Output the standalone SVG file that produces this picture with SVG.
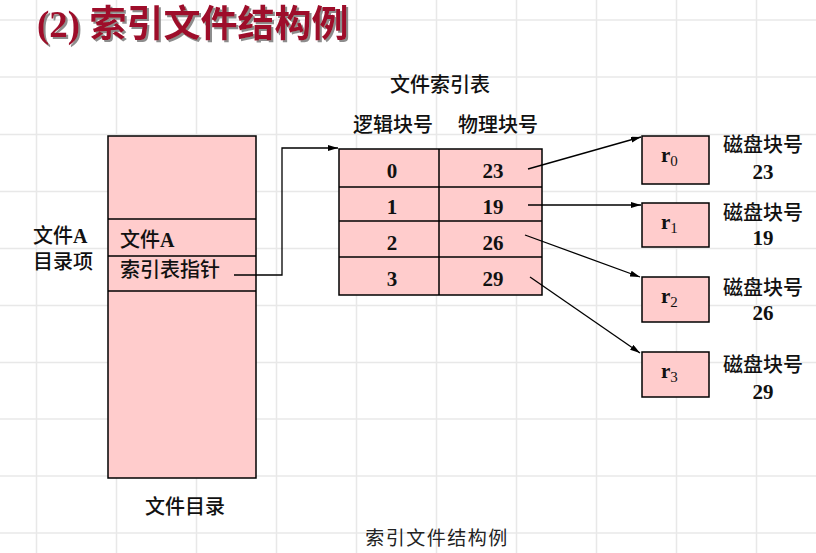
<svg xmlns="http://www.w3.org/2000/svg" width="816" height="553" viewBox="0 0 816 553">
  <style>
    .grid line { stroke: #e8e8e8; stroke-width: 1.5; }
    .box { fill: #ffcccc; stroke: #000; stroke-width: 1.5; }
    .sep { stroke: #000; stroke-width: 1.5; }
    .cjk { font-family: "Liberation Serif", "Noto Sans CJK SC", serif; font-size: 20px; font-weight: 500; fill: #111; }
    .num { font-family: "Liberation Serif", "Noto Sans CJK SC", serif; font-size: 21px; font-weight: bold; fill: #111; }
    .title { font-family: "Liberation Serif", "Noto Sans CJK SC", serif; font-size: 37px; font-weight: bold; fill: #9e0f2c; }
    .cap { font-family: "Noto Sans CJK SC", "Liberation Sans", sans-serif; font-size: 19px; fill: #222; }
    .conn { stroke: #000; stroke-width: 1.3; fill: none; }
  </style>
  <defs>
    <marker id="arrow" viewBox="0 0 10 6" refX="10" refY="3" markerWidth="10" markerHeight="6" markerUnits="userSpaceOnUse" orient="auto">
      <path d="M0,0 L10,3 L0,6 Z" fill="#000"/>
    </marker>
    <filter id="shadow" x="-5%" y="-20%" width="110%" height="150%">
      <feDropShadow dx="2" dy="2" stdDeviation="0.6" flood-color="#808080" flood-opacity="0.9"/>
    </filter>
  </defs>

  <rect width="816" height="553" fill="#fff"/>

  <!-- background grid -->
  <g class="grid">
    <line x1="36.5" y1="0" x2="36.5" y2="553"/>
    <line x1="116.5" y1="0" x2="116.5" y2="553"/>
    <line x1="196.5" y1="0" x2="196.5" y2="553"/>
    <line x1="276.5" y1="0" x2="276.5" y2="553"/>
    <line x1="356.5" y1="0" x2="356.5" y2="553"/>
    <line x1="436.5" y1="0" x2="436.5" y2="553"/>
    <line x1="516.5" y1="0" x2="516.5" y2="553"/>
    <line x1="596.5" y1="0" x2="596.5" y2="553"/>
    <line x1="676.5" y1="0" x2="676.5" y2="553"/>
    <line x1="756.5" y1="0" x2="756.5" y2="553"/>
    <line x1="0" y1="20" x2="816" y2="20"/>
    <line x1="0" y1="77" x2="816" y2="77"/>
    <line x1="0" y1="134.5" x2="816" y2="134.5"/>
    <line x1="0" y1="191.5" x2="816" y2="191.5"/>
    <line x1="0" y1="248.5" x2="816" y2="248.5"/>
    <line x1="0" y1="305.5" x2="816" y2="305.5"/>
    <line x1="0" y1="362.5" x2="816" y2="362.5"/>
    <line x1="0" y1="419" x2="816" y2="419"/>
    <line x1="0" y1="476" x2="816" y2="476"/>
    <line x1="0" y1="533" x2="816" y2="533"/>
  </g>

  <!-- heading with drop shadow -->
  <g id="title">
    <text class="title" x="37" y="37" filter="url(#shadow)">(2) 索引文件结构例</text>
  </g>

  <!-- file directory -->
  <g id="directory">
    <rect class="box" x="108" y="136" width="148" height="342"/>
    <line class="sep" x1="108" y1="219" x2="256" y2="219"/>
    <line class="sep" x1="108" y1="256" x2="256" y2="256"/>
    <line class="sep" x1="108" y1="291" x2="256" y2="291"/>
    <text class="cjk" x="120" y="247">文件<tspan font-weight="bold">A</tspan></text>
    <text class="cjk" x="120" y="277">索引表指针</text>
    <text class="cjk" x="185" y="514" text-anchor="middle">文件目录</text>
  </g>

  <g id="entry-label">
    <text class="cjk" x="33" y="243">文件<tspan font-weight="bold">A</tspan></text>
    <text class="cjk" x="33" y="269">目录项</text>
  </g>

  <!-- file index table -->
  <g id="index-table">
    <text class="cjk" x="440" y="92" text-anchor="middle">文件索引表</text>
    <text class="cjk" x="393" y="132" text-anchor="middle">逻辑块号</text>
    <text class="cjk" x="498" y="132" text-anchor="middle">物理块号</text>
    <rect class="box" x="339" y="149" width="203" height="146"/>
    <line class="sep" x1="339" y1="187" x2="542" y2="187"/>
    <line class="sep" x1="339" y1="221" x2="542" y2="221"/>
    <line class="sep" x1="339" y1="257" x2="542" y2="257"/>
    <line class="sep" x1="439" y1="149" x2="439" y2="295"/>
    <text class="num" x="392" y="178" text-anchor="middle">0</text>
    <text class="num" x="493" y="178" text-anchor="middle">23</text>
    <text class="num" x="392" y="214" text-anchor="middle">1</text>
    <text class="num" x="493" y="214" text-anchor="middle">19</text>
    <text class="num" x="392" y="250" text-anchor="middle">2</text>
    <text class="num" x="493" y="250" text-anchor="middle">26</text>
    <text class="num" x="392" y="286" text-anchor="middle">3</text>
    <text class="num" x="493" y="286" text-anchor="middle">29</text>
  </g>

  <!-- disk blocks -->
  <g id="block-r0">
    <rect class="box" x="642" y="136" width="67" height="48"/>
    <text class="num" x="661" y="162" font-size="23">r<tspan font-weight="normal" font-size="15" dy="4">0</tspan></text>
    <text class="cjk" x="763" y="152" text-anchor="middle">磁盘块号</text>
    <text class="num" x="763" y="179" text-anchor="middle">23</text>
  </g>
  <g id="block-r1">
    <rect class="box" x="642" y="203" width="67" height="44"/>
    <text class="num" x="661" y="229" font-size="23">r<tspan font-weight="normal" font-size="15" dy="4">1</tspan></text>
    <text class="cjk" x="763" y="220" text-anchor="middle">磁盘块号</text>
    <text class="num" x="763" y="245" text-anchor="middle">19</text>
  </g>
  <g id="block-r2">
    <rect class="box" x="642" y="277" width="67" height="45"/>
    <text class="num" x="661" y="303" font-size="23">r<tspan font-weight="normal" font-size="15" dy="4">2</tspan></text>
    <text class="cjk" x="763" y="295" text-anchor="middle">磁盘块号</text>
    <text class="num" x="763" y="320" text-anchor="middle">26</text>
  </g>
  <g id="block-r3">
    <rect class="box" x="642" y="352" width="67" height="45"/>
    <text class="num" x="661" y="378" font-size="23">r<tspan font-weight="normal" font-size="15" dy="4">3</tspan></text>
    <text class="cjk" x="763" y="372" text-anchor="middle">磁盘块号</text>
    <text class="num" x="763" y="399" text-anchor="middle">29</text>
  </g>

  <!-- connectors -->
  <g id="connectors">
    <polyline class="conn" points="234,275 282,275 282,148 338,148" marker-end="url(#arrow)"/>
    <line class="conn" x1="528" y1="169" x2="641" y2="137" marker-end="url(#arrow)"/>
    <line class="conn" x1="528" y1="205" x2="641" y2="205" marker-end="url(#arrow)"/>
    <line class="conn" x1="525" y1="235" x2="640" y2="277" marker-end="url(#arrow)"/>
    <line class="conn" x1="530" y1="277" x2="640" y2="353" marker-end="url(#arrow)"/>
  </g>

  <text class="cap" x="437" y="545" text-anchor="middle" letter-spacing="1.5">索引文件结构例</text>
</svg>
